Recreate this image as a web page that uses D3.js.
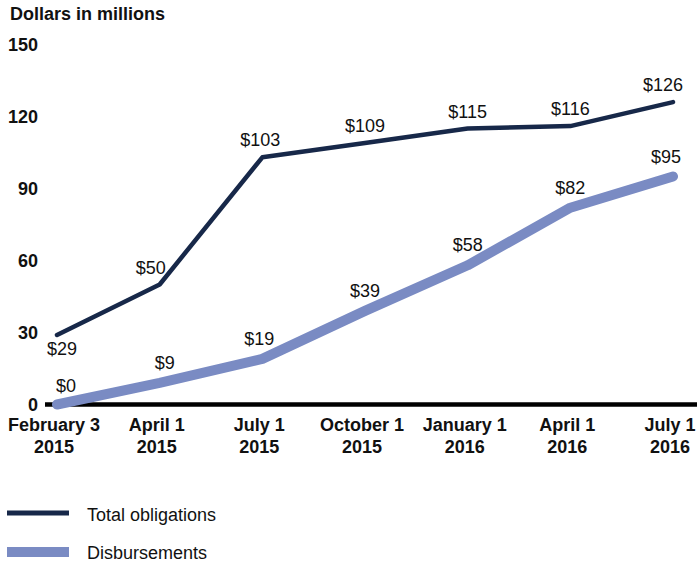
<!DOCTYPE html>
<html><head><meta charset="utf-8">
<script src="https://cdn.jsdelivr.net/npm/d3@7"></script>
<style>
body{margin:0;background:#fff;}
svg{display:block;font-family:"Liberation Sans",Arial,sans-serif;}
</style></head>
<body><svg id="c" width="697" height="565"></svg>
<script>
const dates = [["February 3","2015"],["April 1","2015"],["July 1","2015"],["October 1","2015"],["January 1","2016"],["April 1","2016"],["July 1","2016"]];
const obligations = [29,50,103,109,115,116,126];
const disbursements = [0,9,19,39,58,82,95];
const yTicks = [0,30,60,90,120,150];
const seriesNames = ["Total obligations","Disbursements"];
// small nudges for value labels (px) to avoid line overlap
const oblLabelDx = [5,-9,-2,0,0,0,-10];
const disLabelDx = [9,5,-3,0,0,0,-7];

const svg = d3.select("#c");
const x = d3.scalePoint().domain(d3.range(dates.length)).range([57,673]);
const y = d3.scaleLinear().domain([0,150]).range([404.5,44.5]);
const navy = "#172849", blue = "#7a8bc3";

svg.append("text").attr("x",10).attr("y",20).attr("font-size",18).attr("font-weight","bold").attr("fill","#111").text("Dollars in millions");

// y axis labels
const ya = svg.append("g").attr("transform","translate(38,0)")
  .call(d3.axisLeft(y).tickValues(yTicks).tickSize(0).tickPadding(0));
ya.select(".domain").remove();
ya.selectAll("text").attr("font-size",18).attr("font-weight","bold").attr("fill","#111").attr("font-family","Liberation Sans, Arial, sans-serif").attr("dy","0.35em");

// x axis line
svg.append("line").attr("x1",45).attr("x2",697).attr("y1",y(0)).attr("y2",y(0)).attr("stroke","#000").attr("stroke-width",4.5);

// x labels
const xl = svg.append("g");
dates.forEach((d,i)=>{
  const t = xl.append("text").attr("text-anchor","middle").attr("font-size",18).attr("font-weight","bold").attr("fill","#111");
  t.append("tspan").attr("x",x(i)-3).attr("y",431).text(d[0]);
  t.append("tspan").attr("x",x(i)-3).attr("y",453).text(d[1]);
});

const line = d3.line().x((d,i)=>x(i)).y(d=>y(d));
svg.append("path").datum(disbursements).attr("d",line).attr("fill","none").attr("stroke",blue).attr("stroke-width",10).attr("stroke-linecap","round").attr("stroke-linejoin","round");
svg.append("path").datum(obligations).attr("d",line).attr("fill","none").attr("stroke",navy).attr("stroke-width",4.5).attr("stroke-linecap","round").attr("stroke-linejoin","round");

// value labels
svg.append("g").selectAll("text").data(obligations).join("text")
  .attr("x",(d,i)=>x(i)+oblLabelDx[i])
  .attr("y",(d,i)=> i===0 ? y(d)+20 : y(d)-11)
  .attr("text-anchor","middle").attr("font-size",18).attr("fill","#111").text(d=>"$"+d);
svg.append("g").selectAll("text").data(disbursements).join("text")
  .attr("x",(d,i)=>x(i)+disLabelDx[i])
  .attr("y",(d,i)=> i===0 ? y(d)-13 : y(d)-14)
  .attr("text-anchor","middle").attr("font-size",18).attr("fill","#111").text(d=>"$"+d);

// legend
const lg = svg.append("g");
lg.append("line").attr("x1",7).attr("x2",69).attr("y1",513).attr("y2",513).attr("stroke",navy).attr("stroke-width",5);
lg.append("text").attr("x",87).attr("y",521).attr("font-size",18).attr("fill","#111").text(seriesNames[0]);
lg.append("line").attr("x1",7).attr("x2",69).attr("y1",552).attr("y2",552).attr("stroke",blue).attr("stroke-width",10);
lg.append("text").attr("x",87).attr("y",559).attr("font-size",18).attr("fill","#111").text(seriesNames[1]);
</script></body></html>
